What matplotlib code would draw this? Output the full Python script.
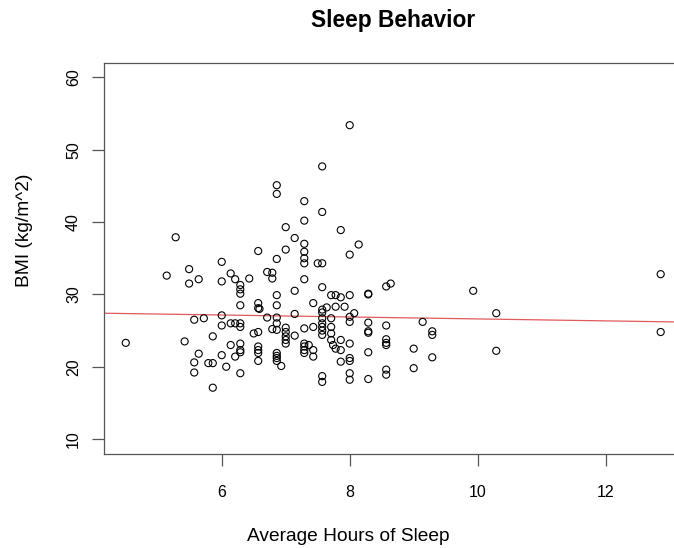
import matplotlib
matplotlib.use("Agg")
import matplotlib.pyplot as plt

plt.rcParams["font.family"] = ["Liberation Sans", "DejaVu Sans"]

# average hours of sleep per night and BMI for each respondent
hours = [
    4.50, 5.14, 5.28, 5.42, 5.49, 5.49, 5.57, 5.57, 5.57, 5.64,
    5.64, 5.72, 5.79, 5.86, 5.86, 5.86,
    6.00, 6.00, 6.00, 6.00, 6.00, 6.07, 6.14, 6.14, 6.14, 6.21,
    6.21, 6.21, 6.29, 6.29, 6.29, 6.29, 6.29, 6.29, 6.29, 6.29,
    6.29, 6.29, 6.43, 6.50,
    6.57, 6.57, 6.57, 6.59, 6.57, 6.57, 6.57, 6.57, 6.57,
    6.71, 6.79, 6.79, 6.71, 6.79,
    6.86, 6.86, 6.86, 6.86, 6.86, 6.86, 6.86, 6.86, 6.86, 6.86,
    6.86, 6.86, 6.93,
    7.00, 7.00, 7.00, 7.00, 7.00, 7.00, 7.00,
    7.14, 7.14, 7.14, 7.14,
    7.29, 7.29, 7.29, 7.29, 7.29, 7.29, 7.29, 7.29, 7.29, 7.29,
    7.29, 7.29,
    7.36, 7.43, 7.43, 7.43, 7.43, 7.50,
    7.57, 7.57, 7.57, 7.57, 7.57, 7.57, 7.57, 7.57, 7.57, 7.57,
    7.57, 7.57, 7.57, 7.64,
    7.71, 7.71, 7.71, 7.71, 7.71, 7.74, 7.78, 7.78, 7.78,
    7.86, 7.86, 7.86, 7.86, 7.86, 7.92,
    8.00, 8.00, 8.00, 8.00, 8.00, 8.00, 8.00, 8.00, 8.00, 8.00,
    8.07, 8.14,
    8.29, 8.29, 8.29, 8.29, 8.29, 8.29, 8.29,
    8.57, 8.64, 8.57, 8.57, 8.57, 8.57, 8.57, 8.57,
    9.00, 9.00, 9.14, 9.29, 9.29, 9.29, 9.93, 10.29, 10.29,
    12.86, 12.86,
]
bmi = [
    23.3, 32.6, 37.9, 23.5, 33.5, 31.5, 26.5, 20.6, 19.2, 32.1,
    21.8, 26.7, 20.5, 20.5, 24.2, 17.1,
    34.5, 31.8, 27.1, 25.7, 21.6, 20.0, 32.9, 26.0, 23.0, 32.1,
    26.0, 21.4, 31.3, 30.7, 30.1, 28.5, 26.0, 25.5, 23.2, 22.3,
    22.0, 19.1, 32.2, 24.6,
    36.0, 28.8, 28.1, 28.0, 24.8, 22.8, 22.3, 21.9, 20.8,
    33.1, 33.0, 32.2, 26.8, 25.2,
    45.1, 43.9, 34.9, 29.9, 28.5, 26.8, 26.0, 25.1, 21.9, 21.5,
    21.2, 20.8, 20.1,
    39.3, 36.2, 25.4, 24.8, 24.2, 23.7, 23.2,
    37.8, 30.5, 27.3, 24.3,
    42.9, 40.2, 37.0, 35.9, 35.0, 34.3, 32.1, 25.3, 23.2, 22.8,
    22.3, 21.9,
    23.0, 28.8, 25.5, 22.3, 21.4, 34.3,
    47.7, 41.4, 34.3, 31.0, 27.9, 27.5, 26.7, 26.0, 25.5, 25.0,
    24.4, 18.7, 17.9, 28.2,
    29.9, 26.7, 25.5, 24.6, 23.7, 23.0, 29.9, 28.3, 22.5,
    38.9, 29.6, 23.7, 22.3, 20.7, 28.3,
    53.4, 35.5, 29.9, 26.9, 26.2, 23.2, 21.2, 20.8, 19.1, 18.2,
    27.4, 36.9,
    30.0, 30.1, 26.1, 24.7, 24.9, 22.0, 18.3,
    31.1, 31.5, 25.7, 23.8, 23.3, 23.0, 19.6, 18.9,
    22.5, 19.8, 26.2, 24.9, 24.4, 21.3, 30.5, 27.4, 22.2,
    32.8, 24.8,
]

# least-squares line BMI ~ hours
fit_intercept = 27.96
fit_slope = -0.135

x_ticks = [6, 8, 10, 12]
y_ticks = [10, 20, 30, 40, 50, 60]

W, H = 674, 548
fig = plt.figure(figsize=(W / 100, H / 100), dpi=100)
# plot box runs past the right edge of the canvas
ax = fig.add_axes([104 / W, 1 - 453.5 / H, 581 / W, (453.5 - 63) / H])

ax.scatter(hours, bmi, s=26, facecolors="none", edgecolors="black",
           linewidths=0.8, zorder=3)

xl = (4.16, 13.24)
ax.plot(xl, [fit_intercept + fit_slope * v for v in xl],
        color="#e05a5a", lw=0.9, zorder=2)

ax.set_xlim(xl)
ax.set_ylim(8, 62)
ax.set_xticks(x_ticks)
ax.set_yticks(y_ticks)
for sp in ax.spines.values():
    sp.set_color("#555555")
    sp.set_linewidth(0.9)
ax.tick_params(axis="both", direction="out", length=8.5, width=0.9,
               color="#555555", labelsize=11.5)
ax.tick_params(axis="x", pad=14)
ax.tick_params(axis="y", labelrotation=90, pad=8)
for lab in ax.get_yticklabels():
    lab.set_verticalalignment("center")

fig.text(393 / W, 1 - 27 / H, "Sleep Behavior", ha="center", va="baseline",
         fontsize=16.4, fontweight="bold")
fig.text(348 / W, 1 - 541 / H, "Average Hours of Sleep", ha="center",
         va="baseline", fontsize=13.8)
fig.text(25 / W, 1 - 230 / H, "BMI (kg/m^2)", ha="center", va="center",
         rotation=90, fontsize=13.8)

fig.savefig("out.png", dpi=100)
